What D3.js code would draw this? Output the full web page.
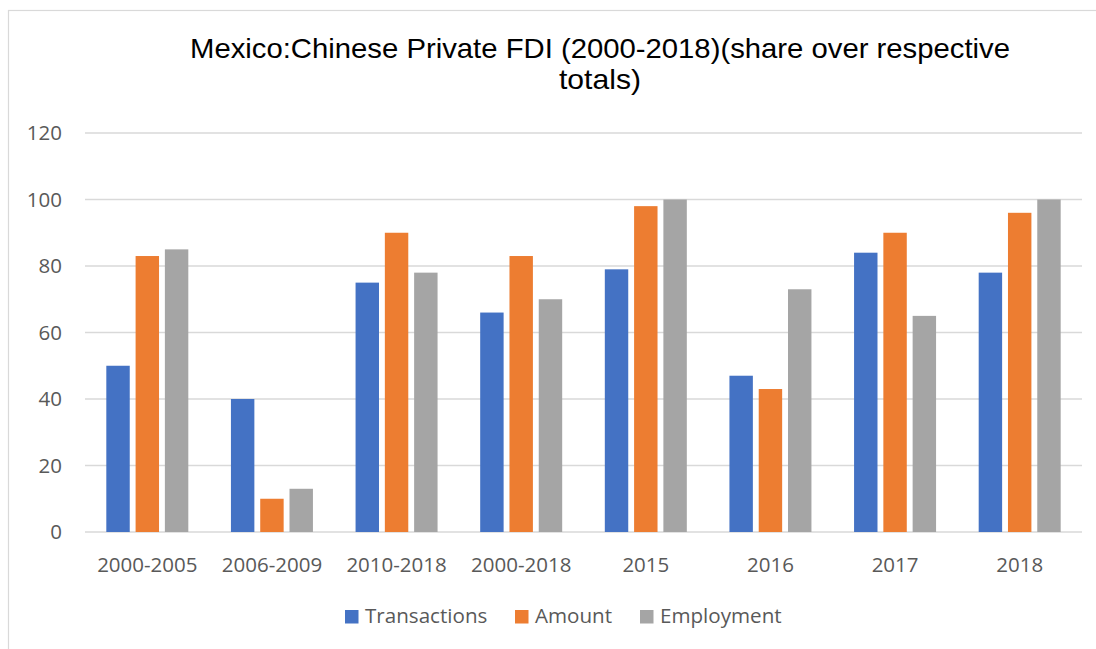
<!DOCTYPE html>
<html><head><meta charset="utf-8">
<script src="https://cdn.jsdelivr.net/npm/d3@7"></script>
<style>body{margin:0;background:#fff;} svg{display:block;}</style>
</head><body>
<script>
const categories = ["2000-2005","2006-2009","2010-2018","2000-2018","2015","2016","2017","2018"];
const seriesNames = ["Transactions","Amount","Employment"];
const transactions = [50,40,75,66,79,47,84,78];
const amount = [83,10,90,83,98,43,90,96];
const employment = [85,13,78,70,100,73,65,100];
const yTicks = [0,20,40,60,80,100,120];
const colors = ["#4472C4","#ED7D31","#A5A5A5"];
const titleLines = ["Mexico:Chinese Private FDI (2000-2018)(share over respective","totals)"];

(function(){
const W=1096,H=649;
const svg=d3.select("body").append("svg").attr("width",W).attr("height",H);
svg.append("rect").attr("x",8.5).attr("y",10.5).attr("width",1200).attr("height",800)
  .attr("fill","#fff").attr("stroke","#d9d9d9").attr("stroke-width",1.2);

const pl=85,pr=1082,pt=133,pb=532;
const x=d3.scaleBand().domain(categories).range([pl,pr]);
const y=d3.scaleLinear().domain([0,120]).range([pb,pt]);
const series=[transactions,amount,employment];
const sub=d3.scaleBand().domain(seriesNames).range([-41,41]).paddingInner(0.2);
const lblFont="'Open Sans',sans-serif";

svg.append("g").selectAll("line").data(yTicks).join("line")
  .attr("x1",pl).attr("x2",pr).attr("y1",d=>y(d)).attr("y2",d=>y(d))
  .attr("stroke","#d9d9d9").attr("stroke-width",1.5);

const yAxis=d3.axisLeft(y).tickValues(yTicks).tickSize(0).tickPadding(0);
const ga=svg.append("g").attr("transform",`translate(62,0)`).call(yAxis);
ga.select(".domain").remove();
ga.selectAll("text").attr("font-family",lblFont).attr("font-size",20.5).attr("fill","#595959");

seriesNames.forEach((s,i)=>{
  svg.append("g").selectAll("rect").data(categories).join("rect")
    .attr("x",c=>x(c)+x.bandwidth()/2+sub(s))
    .attr("width",sub.bandwidth())
    .attr("y",(c,j)=>y(series[i][j]))
    .attr("height",(c,j)=>y(0)-y(series[i][j]))
    .attr("fill",colors[i]);
});

const xAxis=d3.axisBottom(x).tickSize(0).tickPadding(0);
const gx=svg.append("g").attr("transform",`translate(0,${pb+25})`).call(xAxis);
gx.select(".domain").remove();
gx.selectAll("text").attr("font-family",lblFont).attr("font-size",20.5).attr("fill","#595959");

const tl=[820,82];
svg.append("g").selectAll("text").data(titleLines).join("text")
  .attr("x",600).attr("y",(d,i)=>58+i*31).attr("text-anchor","middle")
  .attr("font-family","'Liberation Sans',Arial,sans-serif").attr("font-size",28).attr("fill","#000")
  .attr("textLength",(d,i)=>tl[i]).attr("lengthAdjust","spacingAndGlyphs")
  .text(d=>d);

const legX=[345,515,640];
const lg=svg.append("g");
seriesNames.forEach((s,i)=>{
  lg.append("rect").attr("x",legX[i]).attr("y",610).attr("width",13.5).attr("height",13.5).attr("fill",colors[i]);
  lg.append("text").attr("x",legX[i]+20).attr("y",623).attr("font-family",lblFont)
    .attr("font-size",20.6).attr("fill","#595959").text(s);
});
})();
</script>
</body></html>
